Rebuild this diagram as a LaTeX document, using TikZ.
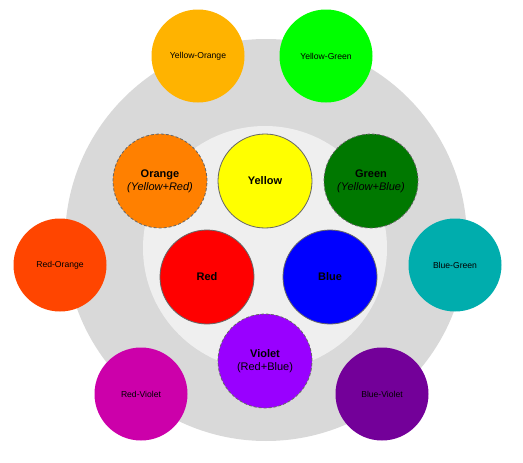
\documentclass[tikz,border=0pt]{standalone}
\usepackage{fontspec}
\setmainfont{Liberation Sans}
\definecolor{bigring}{HTML}{D9D9D9}
\definecolor{innerring}{HTML}{EFEFEF}
\definecolor{cYO}{HTML}{FFB300}
\definecolor{cYG}{HTML}{00FF00}
\definecolor{cO}{HTML}{FF8000}
\definecolor{cY}{HTML}{FFFF00}
\definecolor{cG}{HTML}{007800}
\definecolor{cRO}{HTML}{FF4500}
\definecolor{cR}{HTML}{FF0000}
\definecolor{cB}{HTML}{0000FF}
\definecolor{cBG}{HTML}{00ADAD}
\definecolor{cV}{HTML}{9900FF}
\definecolor{cRV}{HTML}{CC00AA}
\definecolor{cBV}{HTML}{730099}
\definecolor{edge}{HTML}{666666}
\tikzset{
  tert/.style={circle, minimum size=93pt, inner sep=0pt, draw=none, font=\fontsize{8.6}{10}\selectfont, align=center},
  prim/.style={circle, minimum size=94pt, inner sep=0pt, draw=edge, line width=0.8pt, font=\fontsize{11}{13}\selectfont\bfseries, align=center},
  second/.style={circle, minimum size=94pt, inner sep=0pt, draw=edge, dash pattern=on 3pt off 2pt, line width=0.8pt, font=\fontsize{11}{13}\selectfont, align=center},
}
\begin{document}
\begin{tikzpicture}[x=1pt,y=-1pt]
\useasboundingbox (0,0) rectangle (523,463);
\fill[bigring] (266,240) circle (201);
\fill[innerring] (265,248) circle (122);
% tertiary
\node[tert, fill=cYO] (yo) at (198,56) {Yellow-Orange};
\node[tert, fill=cYG] (yg) at (326,56) {Yellow-Green};
\node[tert, fill=cRO] (ro) at (60,265) {Red-Orange};
\node[tert, fill=cBG] (bg) at (455,265) {Blue-Green};
\node[tert, fill=cRV] (rv) at (141,394) {Red-Violet};
\node[tert, fill=cBV] (bv) at (382,394) {Blue-Violet};
% primary
\node[prim, fill=cY] (y) at (265,181) {Yellow};
\node[prim, fill=cR] (r) at (207,277) {Red};
\node[prim, fill=cB] (b) at (330,277) {Blue};
% secondary
\node[second, fill=cO] (o) at (160,181) {\textbf{Orange}\\\textit{(Yellow+Red)}};
\node[second, fill=cG] (g) at (371,181) {\textbf{Green}\\\textit{(Yellow+Blue)}};
\node[second, fill=cV] (v) at (265,361) {\textbf{Violet}\\(Red+Blue)};
\end{tikzpicture}
\end{document}
